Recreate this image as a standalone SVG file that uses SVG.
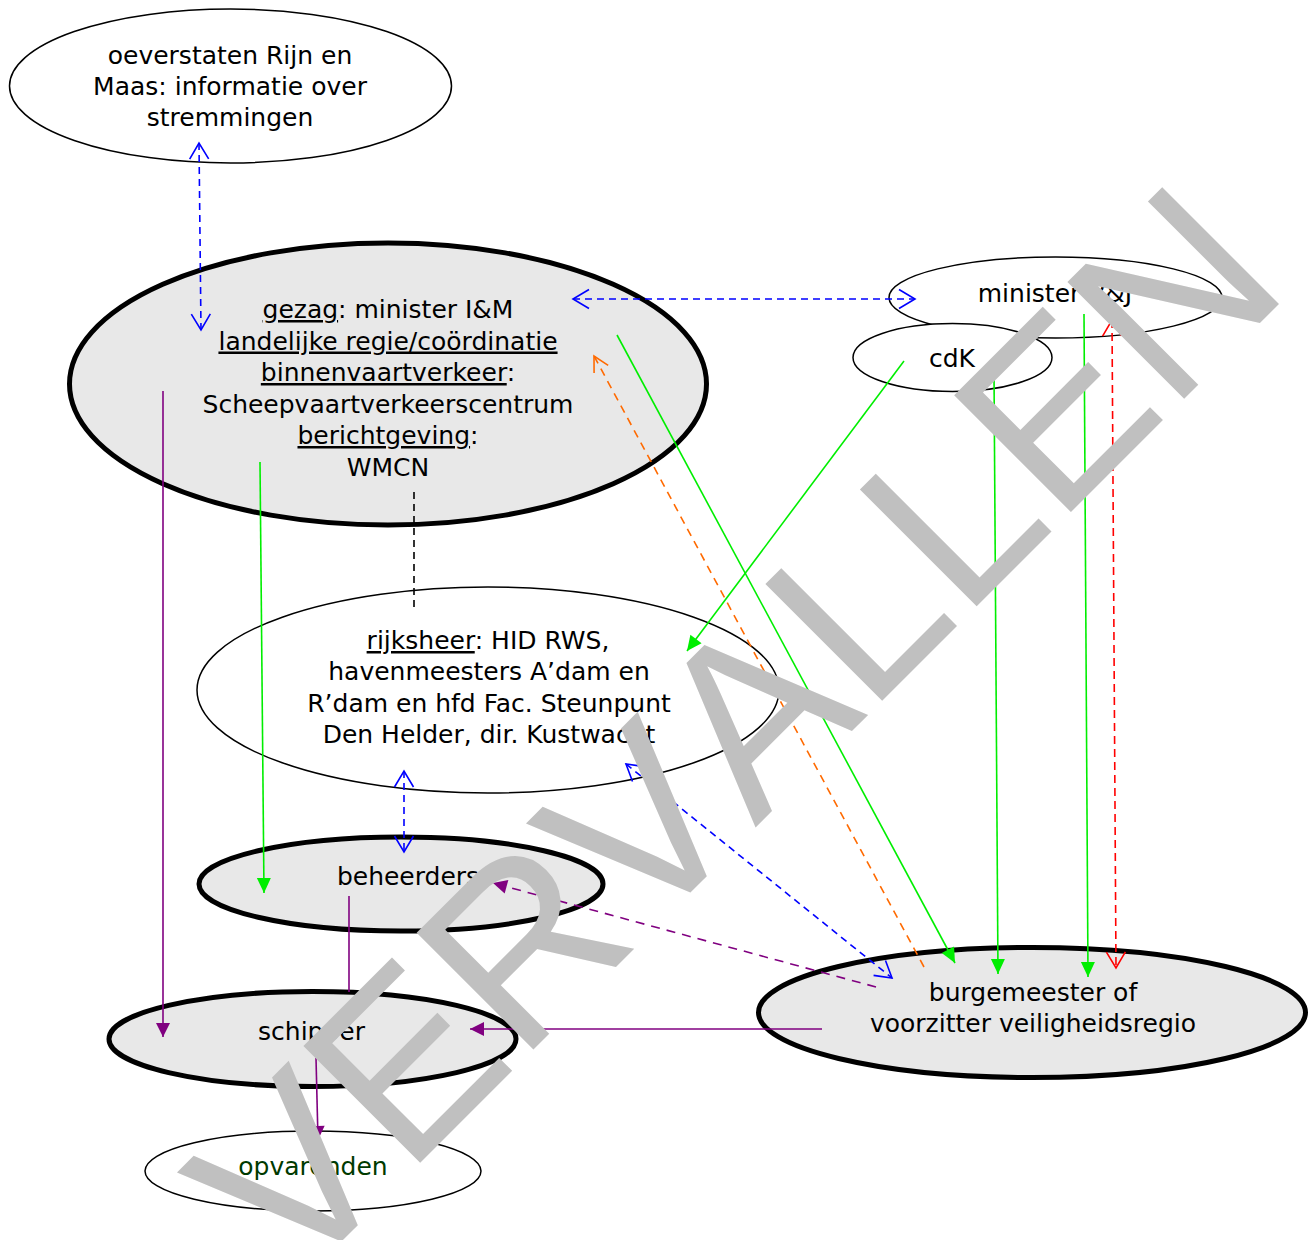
<svg xmlns="http://www.w3.org/2000/svg" width="1309" height="1240" viewBox="0 0 1309 1240">
<style>
  text { font-family: 'DejaVu Sans', 'Liberation Sans', sans-serif; font-size: 25px; fill: #000; text-anchor: middle; }
  .u { text-decoration: underline; }
  .thin { fill: #fff; stroke: #000; stroke-width: 1.5; }
  .thick { fill: #e8e8e8; stroke: #000; stroke-width: 5; }
  .c { fill: none; stroke-width: 1.6; }
  .blue { stroke: #0000ff; stroke-dasharray: 7 5; }
  .green { stroke: #00ee00; }
  .purple { stroke: #800080; }
  .pdash { stroke: #800080; stroke-dasharray: 9 7; }
  .orange { stroke: #ff6a00; stroke-dasharray: 8 6; }
  .red { stroke: #ff0000; stroke-dasharray: 8 5; }
  .black { stroke: #000; stroke-dasharray: 7 5; }
  .wm { font-family: 'Liberation Sans', Arial, sans-serif; font-size: 240px; fill: #c0c0c0; text-anchor: start; font-kerning: none; font-feature-settings: "kern" 0; }
</style>
<defs>
  <marker id="ob" markerUnits="userSpaceOnUse" orient="auto-start-reverse" overflow="visible" markerWidth="20" markerHeight="20">
    <path d="M-16,-9.5 L0,0 L-16,9.5" fill="none" stroke="#0000ff" stroke-width="1.6"/>
  </marker>
  <marker id="or" markerUnits="userSpaceOnUse" orient="auto-start-reverse" overflow="visible" markerWidth="20" markerHeight="20">
    <path d="M-16,-9.5 L0,0 L-16,9.5" fill="none" stroke="#ff0000" stroke-width="1.6"/>
  </marker>
  <marker id="oo" markerUnits="userSpaceOnUse" orient="auto" overflow="visible" markerWidth="20" markerHeight="20">
    <path d="M-15,-8 L0,0 L-15,8" fill="none" stroke="#ff6a00" stroke-width="1.6"/>
  </marker>
  <marker id="fg" markerUnits="userSpaceOnUse" orient="auto" overflow="visible" markerWidth="20" markerHeight="20">
    <path d="M0,0 L-15,-7 L-15,7 Z" fill="#00ee00"/>
  </marker>
  <marker id="fp" markerUnits="userSpaceOnUse" orient="auto" overflow="visible" markerWidth="20" markerHeight="20">
    <path d="M0,0 L-14,-7 L-14,7 Z" fill="#800080"/>
  </marker>
</defs>
<rect width="1309" height="1240" fill="#fff"/>

<g id="node-oeverstaten">
  <ellipse class="thin" cx="230.5" cy="86" rx="221" ry="77"/>
  <text x="230" y="64">oeverstaten Rijn en</text>
  <text x="230" y="95">Maas: informatie over</text>
  <text x="230" y="126">stremmingen</text>
</g>

<g id="node-gezag">
  <ellipse class="thick" cx="388" cy="384" rx="318.5" ry="141"/>
  <text x="388" y="318"><tspan class="u">gezag</tspan>: minister I&amp;M</text>
  <text x="388" y="349.5"><tspan class="u">landelijke regie/coördinatie</tspan></text>
  <text x="388" y="381"><tspan class="u">binnenvaartverkeer</tspan>:</text>
  <text x="388" y="412.5">Scheepvaartverkeerscentrum</text>
  <text x="388" y="444"><tspan class="u">berichtgeving</tspan>:</text>
  <text x="388" y="475.5">WMCN</text>
</g>

<g id="node-minister-vj">
  <ellipse class="thin" cx="1055.5" cy="297.5" rx="166.5" ry="40.5"/>
  <text x="1055" y="302">minister V&amp;J</text>
</g>

<g id="node-cdk">
  <ellipse class="thin" cx="952.5" cy="357.5" rx="99.5" ry="34"/>
  <text x="952" y="366.5">cdK</text>
</g>

<g id="node-rijksheer">
  <ellipse class="thin" cx="488" cy="690" rx="291" ry="103"/>
  <text x="488" y="649"><tspan class="u">rijksheer</tspan>: HID RWS,</text>
  <text x="489" y="680">havenmeesters A’dam en</text>
  <text x="489" y="712">R’dam en hfd Fac. Steunpunt</text>
  <text x="489" y="743">Den Helder, dir. Kustwacht</text>
</g>

<g id="node-beheerders">
  <ellipse class="thick" cx="401" cy="884" rx="202" ry="47"/>
  <text x="408" y="885">beheerders</text>
</g>

<g id="node-schipper">
  <ellipse class="thick" cx="312.5" cy="1039" rx="203.5" ry="47.5"/>
  <text x="311.5" y="1040">schipper</text>
</g>

<g id="node-opvarenden">
  <ellipse class="thin" cx="313" cy="1171" rx="168" ry="40"/>
  <text x="313" y="1175" style="fill:#003a00">opvarenden</text>
</g>

<g id="node-burgemeester">
  <ellipse class="thick" cx="1032" cy="1012.5" rx="273.5" ry="65"/>
  <text x="1033" y="1001">burgemeester of</text>
  <text x="1033" y="1032">voorzitter veiligheidsregio</text>
</g>

<g id="connectors">
  <line class="c blue" x1="199" y1="143" x2="201" y2="330" marker-start="url(#ob)" marker-end="url(#ob)"/>
  <line class="c blue" x1="573" y1="299" x2="915" y2="299" marker-start="url(#ob)" marker-end="url(#ob)"/>
  <line class="c purple" x1="163" y1="391" x2="163" y2="1037" marker-end="url(#fp)"/>
  <line class="c green" x1="260" y1="462" x2="264" y2="893" marker-end="url(#fg)"/>
  <line class="c black" x1="414" y1="492" x2="414" y2="612"/>
  <line class="c blue" x1="404" y1="771" x2="404" y2="852" marker-start="url(#ob)" marker-end="url(#ob)"/>
  <line class="c purple" x1="349" y1="896" x2="349" y2="992"/>
  <line class="c purple" x1="316" y1="1058" x2="318" y2="1140" marker-end="url(#fp)"/>
  <line class="c purple" x1="822" y1="1029" x2="470" y2="1029" marker-end="url(#fp)"/>
  <line class="c pdash" x1="876" y1="987" x2="493" y2="883" marker-end="url(#fp)"/>
  <line class="c blue" x1="626" y1="764" x2="892" y2="978" marker-start="url(#ob)" marker-end="url(#ob)"/>
  <line class="c orange" x1="924" y1="967" x2="594" y2="356" marker-end="url(#oo)"/>
  <line class="c green" x1="617" y1="335" x2="955" y2="963" marker-end="url(#fg)"/>
  <line class="c green" x1="904" y1="361" x2="687" y2="651" marker-end="url(#fg)"/>
  <line class="c green" x1="994" y1="373" x2="998" y2="974" marker-end="url(#fg)"/>
  <line class="c green" x1="1084" y1="314" x2="1088" y2="977" marker-end="url(#fg)"/>
  <line class="c red" x1="1112" y1="320" x2="1116" y2="968" marker-start="url(#or)" marker-end="url(#or)"/>
</g>

<g id="watermark">
  <text class="wm" x="0" y="0" transform="translate(293,1290) rotate(-45)">VERVALLEN</text>
</g>
</svg>
